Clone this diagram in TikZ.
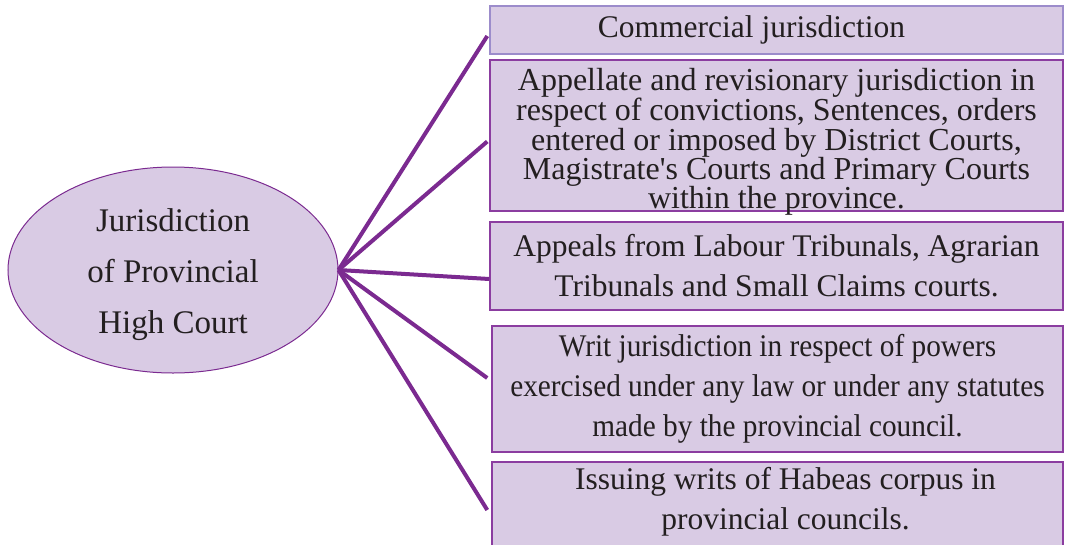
\documentclass[tikz,border=0pt]{standalone}
\usepackage{fontspec}
\setmainfont{Liberation Serif}
\newfontfamily\narrowserif[FakeStretch=0.93]{Liberation Serif}
\usetikzlibrary{shapes.geometric}
\definecolor{lilac}{HTML}{D9CBE4}
\definecolor{plum}{HTML}{7B2A90}
\definecolor{boxedge}{HTML}{8B3DA0}
\definecolor{paleedge}{HTML}{9C8CCB}
\definecolor{ink}{HTML}{231F20}

\begin{document}
\begin{tikzpicture}[x=1pt, y=-1pt,
    court/.style={ellipse, draw=plum, line width=1pt, fill=lilac, minimum width=330pt, minimum height=206pt, inner sep=0pt, align=center, text=ink, font=\fontsize{33}{51}\selectfont},
    power/.style={rectangle, draw=boxedge, line width=1.5pt, fill=lilac, minimum width=573pt, inner sep=0pt, align=center, text=ink, font=\fontsize{31.5}{40}\selectfont},
    spoke/.style={draw=plum, line width=4pt}]
  \useasboundingbox (0,0) rectangle (1066,544);

  \node[court] (hc) at (173,270) {\rule{0pt}{33pt}Jurisdiction\\of Provincial\\High Court};

  \node[power, draw=paleedge, minimum height=48pt] (p1) at (776.5,30) {Commercial jurisdiction\hspace*{50pt}};
  \node[power, minimum height=151pt, font=\fontsize{32}{29.2}\selectfont] (p2) at (776.5,135.5)
    {\rule{0pt}{28pt}Appellate and revisionary jurisdiction in\\respect of convictions, Sentences, orders\\entered or imposed by District Courts,\\Magistrate\textquotesingle s Courts and Primary Courts\\\smash{within the province.}};
  \node[power, minimum height=88pt] (p3) at (776.5,266)
    {Appeals from Labour Tribunals, Agrarian\\Tribunals and Small Claims courts.};
  \node[power, minimum width=571pt, minimum height=126pt, font=\narrowserif\fontsize{31.5}{40}\selectfont] (p4) at (777.5,389)
    {Writ jurisdiction in respect of powers\\exercised under any law or under any statutes\\made by the provincial council.};
  \node[power, minimum width=571pt, minimum height=98pt] (p5) at (777.5,511)
    {\hspace*{16pt}Issuing writs of Habeas corpus in\\\hspace*{16pt}provincial councils.\\[-14pt]\mbox{}};

  \draw[spoke] (hc.east) -- ([xshift=-2pt, yshift=-6pt]p1.west);
  \draw[spoke] (hc.east) -- ([xshift=-2pt, yshift=-6pt]p2.west);
  \draw[spoke] (hc.east) -- ([yshift=-13pt]p3.west);
  \draw[spoke] (hc.east) -- ([xshift=-4pt, yshift=11pt]p4.west);
  \draw[spoke] (hc.east) -- ([xshift=-4pt, yshift=1pt]p5.west);
\end{tikzpicture}
\end{document}
